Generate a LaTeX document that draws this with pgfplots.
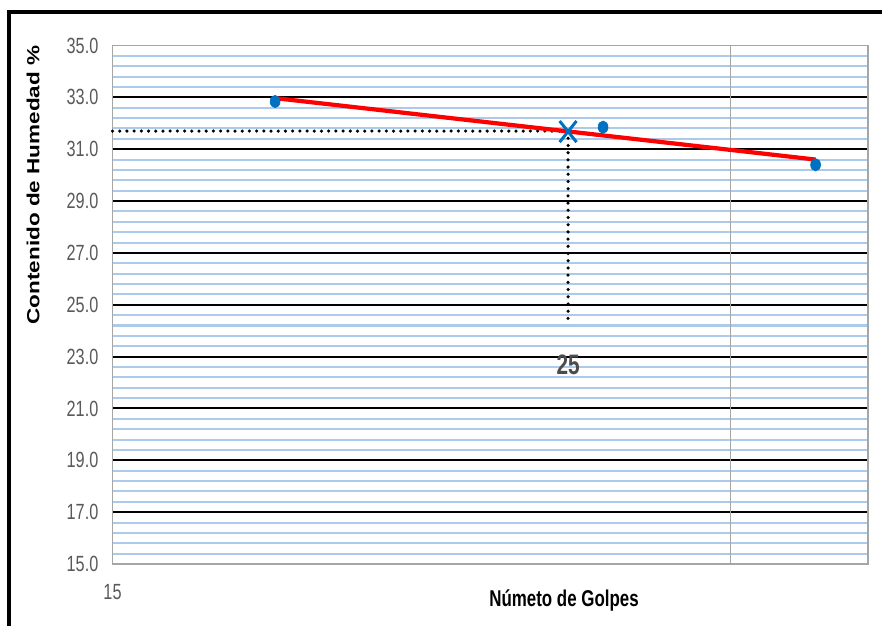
\documentclass[border=0pt]{standalone}
\usepackage{pgfplots}
\pgfplotsset{compat=1.18}
\usepackage{fontspec}
\setmainfont{Liberation Sans}
\newfontfamily\narrowfont[FakeStretch=0.74]{Liberation Sans}
\newfontfamily\widefont[FakeStretch=1.28]{Liberation Sans}
\definecolor{ptblue}{RGB}{0,112,192}
\definecolor{minorblue}{RGB}{172,202,234}
\definecolor{tickgray}{RGB}{89,89,89}
\definecolor{axgray}{RGB}{166,166,166}

\begin{document}
\begin{tikzpicture}
\useasboundingbox (0,0) rectangle (17.64,12.52);
% outer frame (top and left visible)
\draw[line width=1.8pt] (0.18,0) -- (0.18,12.28) -- (17.8,12.28);

\begin{axis}[
    at={(2.25cm,1.24cm)}, anchor=south west,
    scale only axis,
    width=15.11cm, height=10.37cm,
    xmode=log,
    xmin=15, xmax=35,
    ymin=15, ymax=35,
    xtick={15},
    xticklabels={15},
    extra x ticks={30},
    extra x tick labels={},
    extra x tick style={grid=major, major grid style={axgray, line width=0.8pt}},
    ytick={15,17,...,35},
    minor y tick num=4,
    ymajorgrids, yminorgrids,
    major grid style={black, line width=1.1pt},
    minor grid style={minorblue, line width=1.15pt},
    major tick length=0pt, minor tick length=0pt,
    axis line style={axgray, line width=0.8pt},
    /pgf/number format/assume math mode=true,
    yticklabel={\pgfmathprintnumber[fixed, fixed zerofill, precision=1]{\tick}},
    yticklabel style={font=\narrowfont\fontsize{12.5}{13}\selectfont, text=tickgray, xshift=-0.16cm},
    xticklabel style={font=\narrowfont\fontsize{12.5}{13}\selectfont, text=tickgray, yshift=-0.28cm},
    log ticks with fixed point,
    clip=false,
]
% guide lines at 25 blows
\addplot[black, line width=2pt, line cap=round, dash pattern=on 0pt off 4.1pt] coordinates {(15,31.70) (25,31.70)};
\addplot[black, line width=2pt, line cap=round, dash pattern=on 0pt off 4.1pt] coordinates {(25,31.70) (25,24.25)};
% logarithmic trend line
\addplot[red, line width=2.4pt] coordinates {(18,32.97) (33,30.60)};
% test points
\addplot[only marks, mark=*, mark size=2.8pt, ptblue, mark options={yscale=1.25}] coordinates {
    (18,32.84) (26,31.85) (33,30.40)
};
% liquid limit at 25 blows
\addplot[only marks, mark=x, mark size=6.8pt, ptblue, mark options={line width=1.7pt, yscale=1.25}] coordinates {(25,31.68)};
\node[font=\narrowfont\bfseries\fontsize{16}{17}\selectfont, text=tickgray!85!black] at (axis cs:25,22.7) {25};
\end{axis}

\node[rotate=90, font=\widefont\bfseries\fontsize{10}{12}\selectfont] at (0.66,8.82) {Contenido de Humedad \%};
\node[font=\narrowfont\bfseries\fontsize{13}{14}\selectfont] at (11.28,0.52) {Númeto de Golpes};
\end{tikzpicture}
\end{document}
